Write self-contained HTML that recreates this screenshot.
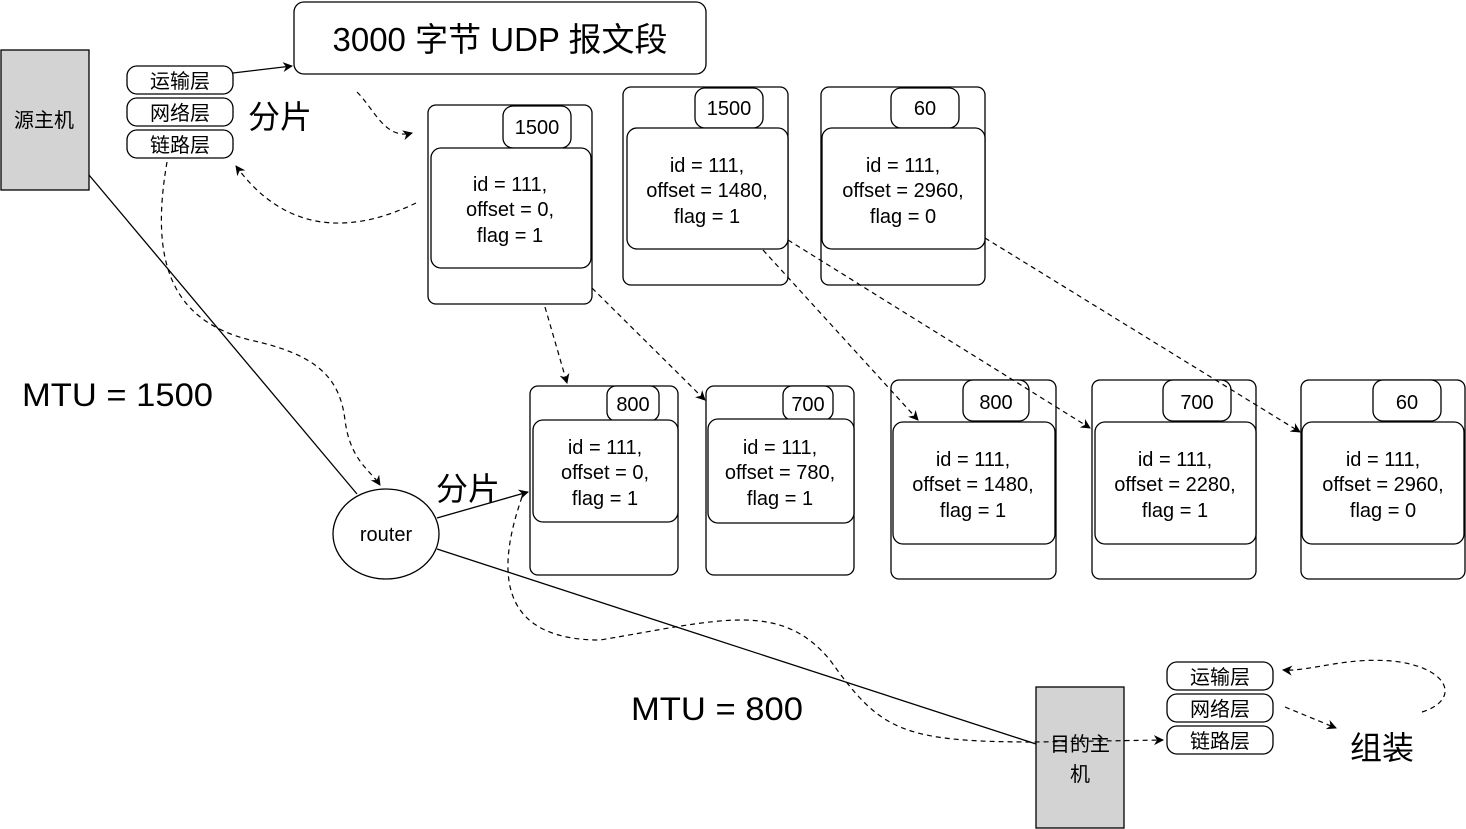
<!DOCTYPE html>
<html><head><meta charset="utf-8"><style>
html,body{margin:0;padding:0;background:#fff;}
svg{display:block;}
text{font-family:"Liberation Sans","Noto Sans CJK SC",sans-serif;fill:#000;}
</style></head><body>
<svg width="1466" height="829" viewBox="0 0 1466 829" xmlns="http://www.w3.org/2000/svg">
<defs>
<marker id="a" markerWidth="10" markerHeight="10" refX="9" refY="5" orient="auto" markerUnits="userSpaceOnUse"><path d="M0,0 L10,5 L0,10 L3,5 z" fill="#000"/></marker>
</defs>
<g fill="#fff" stroke="#000" stroke-width="1.3">
<rect x="1" y="50" width="88" height="140" fill="#d3d3d3"/>
<rect x="127" y="66" width="106" height="28" rx="10"/>
<rect x="127" y="98" width="106" height="28" rx="10"/>
<rect x="127" y="130" width="106" height="28" rx="10"/>
<rect x="294" y="2" width="412" height="72" rx="10"/>
<rect x="428" y="105" width="164" height="199" rx="8"/>
<rect x="503" y="106" width="68" height="42" rx="10"/>
<rect x="431" y="148" width="160" height="120" rx="10"/>
<rect x="623" y="87" width="165" height="198" rx="8"/>
<rect x="695" y="88" width="68" height="40" rx="10"/>
<rect x="627" y="128" width="161" height="121" rx="10"/>
<rect x="821" y="87" width="164" height="198" rx="8"/>
<rect x="891" y="88" width="68" height="40" rx="10"/>
<rect x="822" y="128" width="163" height="121" rx="10"/>
<rect x="530" y="386" width="148" height="189" rx="8"/>
<rect x="607" y="386" width="52" height="35" rx="9"/>
<rect x="533" y="420" width="145" height="102" rx="10"/>
<rect x="706" y="386" width="148" height="189" rx="8"/>
<rect x="783" y="386" width="50" height="34" rx="9"/>
<rect x="708" y="419" width="146" height="104" rx="10"/>
<rect x="891" y="380" width="165" height="199" rx="8"/>
<rect x="963" y="380" width="66" height="41" rx="10"/>
<rect x="893" y="422" width="162" height="122" rx="10"/>
<rect x="1092" y="380" width="164" height="199" rx="8"/>
<rect x="1163" y="380" width="68" height="41" rx="10"/>
<rect x="1095" y="422" width="161" height="122" rx="10"/>
<rect x="1301" y="380" width="164" height="199" rx="8"/>
<rect x="1373" y="380" width="68" height="41" rx="10"/>
<rect x="1302" y="422" width="162" height="122" rx="10"/>
<ellipse cx="386" cy="534" rx="53" ry="45"/>
<rect x="1036" y="687" width="88" height="141" fill="#d3d3d3"/>
<rect x="1167" y="662" width="106" height="28" rx="10"/>
<rect x="1167" y="694" width="106" height="28" rx="10"/>
<rect x="1167" y="726" width="106" height="28" rx="10"/>
</g>
<g stroke="#000" stroke-width="1.3" fill="none">
<line x1="233" y1="73" x2="292" y2="66" marker-end="url(#a)"/>
<line x1="89" y1="175" x2="357" y2="494"/>
<line x1="437" y1="518" x2="528" y2="492" marker-end="url(#a)"/>
<line x1="437" y1="549" x2="1036" y2="744"/>
</g>
<g stroke="#000" stroke-width="1.2" fill="none" stroke-dasharray="5,4">
<path d="M357,92 C375,110 385,140 412,133" marker-end="url(#a)"/>
<path d="M416,203 C360,230 290,240 236,166" marker-end="url(#a)"/>
<path d="M167,162 C150,260 170,320 250,340 C320,355 340,380 345,420 C350,460 370,470 380,485" marker-end="url(#a)"/>
<path d="M545,307 L567,383" marker-end="url(#a)"/>
<path d="M592,288 L705,400" marker-end="url(#a)"/>
<path d="M763,250 L918,420" marker-end="url(#a)"/>
<path d="M788,240 L1090,428" marker-end="url(#a)"/>
<path d="M985,238 L1300,432" marker-end="url(#a)"/>
<path d="M522,497 C500,560 490,640 600,640 C720,620 780,600 830,660 C880,730 900,742 1036,742 L1163,740" marker-end="url(#a)"/>
<path d="M1285,707 L1336,728" marker-end="url(#a)"/>
<path d="M1422,712 C1460,700 1450,670 1400,662 C1350,655 1310,672 1283,670" marker-end="url(#a)"/>
</g>
<g font-size="20" text-anchor="middle">
<text x="44" y="127">源主机</text>
<text x="180" y="88">运输层</text>
<text x="180" y="120">网络层</text>
<text x="180" y="152">链路层</text>
<text x="1220" y="684">运输层</text>
<text x="1220" y="716">网络层</text>
<text x="1220" y="748">链路层</text>
<text x="1080" y="751">目的主</text>
<text x="1080" y="781">机</text>
<text x="386" y="541">router</text>
<text x="537" y="134">1500</text>
<text x="729" y="115">1500</text>
<text x="925" y="115">60</text>
<text x="633" y="411">800</text>
<text x="808" y="411">700</text>
<text x="996" y="409">800</text>
<text x="1197" y="409">700</text>
<text x="1407" y="409">60</text>
<text x="510" y="191">id = 111,</text><text x="510" y="216">offset = 0,</text><text x="510" y="242">flag = 1</text>
<text x="707" y="172">id = 111,</text><text x="707" y="197">offset = 1480,</text><text x="707" y="223">flag = 1</text>
<text x="903" y="172">id = 111,</text><text x="903" y="197">offset = 2960,</text><text x="903" y="223">flag = 0</text>
<text x="605" y="454">id = 111,</text><text x="605" y="479">offset = 0,</text><text x="605" y="505">flag = 1</text>
<text x="780" y="454">id = 111,</text><text x="780" y="479">offset = 780,</text><text x="780" y="505">flag = 1</text>
<text x="973" y="466">id = 111,</text><text x="973" y="491">offset = 1480,</text><text x="973" y="517">flag = 1</text>
<text x="1175" y="466">id = 111,</text><text x="1175" y="491">offset = 2280,</text><text x="1175" y="517">flag = 1</text>
<text x="1383" y="466">id = 111,</text><text x="1383" y="491">offset = 2960,</text><text x="1383" y="517">flag = 0</text>
</g>
<text x="500" y="51" font-size="33" text-anchor="middle">3000 字节 UDP 报文段</text>
<text x="248" y="128" font-size="32">分片</text>
<text x="436" y="500" font-size="32">分片</text>
<text x="22" y="406" font-size="32" textLength="191" lengthAdjust="spacingAndGlyphs">MTU = 1500</text>
<text x="631" y="720" font-size="32" textLength="172" lengthAdjust="spacingAndGlyphs">MTU = 800</text>
<text x="1350" y="759" font-size="32">组装</text>
</svg>
</body></html>
